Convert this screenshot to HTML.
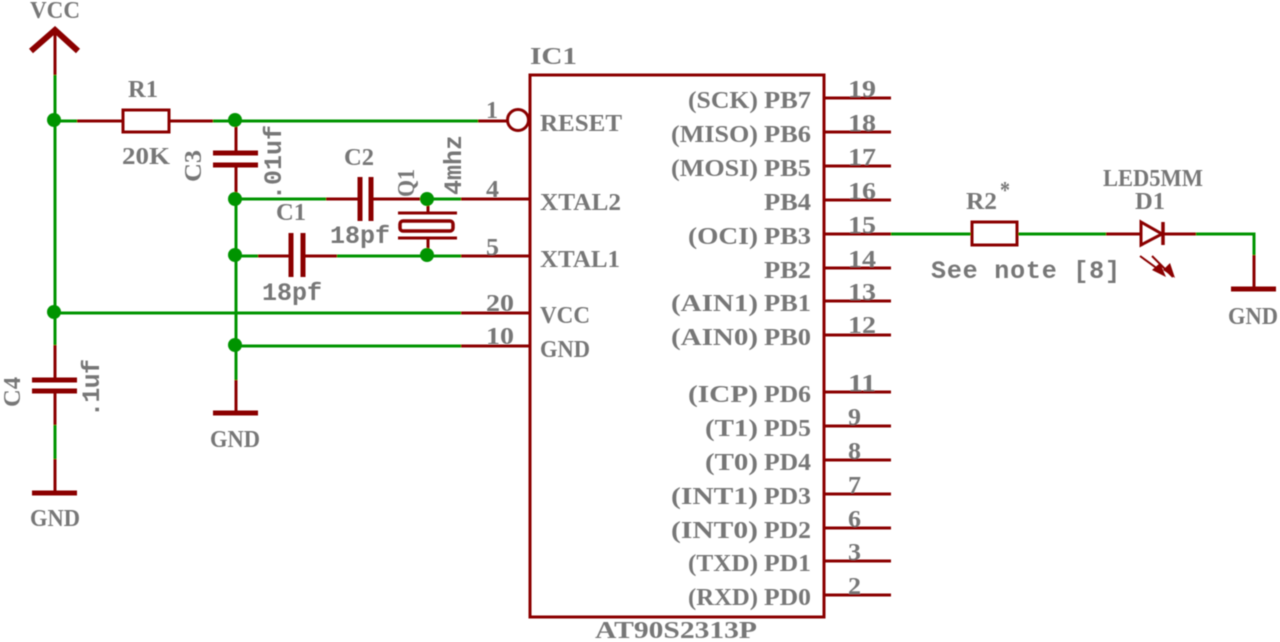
<!DOCTYPE html>
<html><head><meta charset="utf-8"><style>
html,body{margin:0;padding:0;background:#fff;width:1280px;height:642px;overflow:hidden}
svg{display:block}
text{font-family:"Liberation Serif",serif;font-size:24px;fill:#777;font-weight:bold}
text.m{font-family:"Liberation Mono",monospace;font-size:25px}
.r{stroke:#8b0000;stroke-width:3;fill:none}
.g{stroke:#009400;stroke-width:3;fill:none}
.n{fill:#009400}
</style></head><body>
<svg width="1280" height="642" viewBox="0 0 1280 642" xmlns="http://www.w3.org/2000/svg">
<defs><filter id="s" x="0" y="0" width="100%" height="100%"><feGaussianBlur stdDeviation="0.5"/></filter></defs>
<g filter="url(#s)">
<path class="g" d="M55 75V345M55 121H77M213 121H478M236 199V380M235 199H326M427 199H461M337 256H461M235 256H258M54 313H461M235 346H461M891 234H972M1017 234H1106M1196 234H1254V255M55 425V459"/>
<path class="r" d="M55 30V75M77 121H123M169 121H213M236 121V153M236 165V198M478 121H507M55 345V380M55 391V425M55 459V493M236 380V413M326 199H360M371 199H420M461 199H530M258 256H291M303 256H337M461 256H530M461 313H530M461 346H530M428 199V213M428 238V255M1106 234H1141M1163 234H1196M1254 255V289"/>
<path class="r" d="M31 51L55 30L78 51" style="stroke-width:6"/>
<path class="r" d="M32 380H77M32 391H77M32 493H77M213 153H258M213 165H258M213 413H258M360 177V221M371 177V221M291 233V277M303 233V277M1231 289H1276" style="stroke-width:5"/>
<rect class="r" x="123" y="110" width="46" height="22"/>
<rect class="r" x="972" y="222" width="45" height="23"/>
<circle class="r" cx="518" cy="120" r="10.5"/>
<rect class="r" x="530" y="75" width="294" height="542"/>
<path class="r" d="M398 213H457M398 238H457"/>
<rect class="r" x="400" y="221" width="53" height="10" rx="3" style="stroke-width:3.5"/>
<path class="r" d="M824 98H891M824 132H891M824 166H891M824 200H891M824 234H891M824 268H891M824 301H891M824 335H891M824 392H891M824 426H891M824 460H891M824 494H891M824 528H891M824 561H891M824 595H891"/>
<path class="r" d="M1141 222L1162 234L1141 245Z"/>
<path class="r" d="M1163 222V245" style="stroke-width:3.5"/>
<path class="r" d="M1140 256L1162 272M1152 256L1173 277" style="stroke-width:2"/>
<path d="M1152 270L1160 263L1166 277ZM1163 270L1170 263L1175 278Z" fill="#8b0000"/>
<g class="n">
<circle cx="54" cy="120" r="7"/><circle cx="235" cy="120" r="7"/><circle cx="235" cy="199" r="7"/><circle cx="235" cy="255" r="7"/><circle cx="54" cy="312" r="7"/><circle cx="235" cy="345" r="7"/><circle cx="427" cy="199" r="7"/><circle cx="427" cy="255" r="7"/>
</g>
<g>
<text lengthAdjust="spacingAndGlyphs" x="30" y="18" textLength="50">VCC</text>
<text lengthAdjust="spacingAndGlyphs" x="128" y="97" textLength="30">R1</text>
<text lengthAdjust="spacingAndGlyphs" x="122" y="164" textLength="48">20K</text>
<text lengthAdjust="spacingAndGlyphs" x="344" y="165" textLength="30">C2</text>
<text class="m" x="330" y="243" textLength="60">18pf</text>
<text lengthAdjust="spacingAndGlyphs" x="276" y="220" textLength="30">C1</text>
<text class="m" x="262" y="300" textLength="60">18pf</text>
<text lengthAdjust="spacingAndGlyphs" transform="translate(201,182) rotate(-90)" textLength="32">C3</text>
<text class="m" transform="translate(281,200) rotate(-90)" textLength="75">.01uf</text>
<text lengthAdjust="spacingAndGlyphs" transform="translate(414,197) rotate(-90)" textLength="28">Q1</text>
<text class="m" transform="translate(461,195) rotate(-90)" textLength="60">4mhz</text>
<text lengthAdjust="spacingAndGlyphs" transform="translate(20,407) rotate(-90)" textLength="30">C4</text>
<text class="m" transform="translate(99,417) rotate(-90)" textLength="58">.1uf</text>
<text lengthAdjust="spacingAndGlyphs" x="30" y="526" textLength="50">GND</text>
<text lengthAdjust="spacingAndGlyphs" x="210" y="447" textLength="50">GND</text>
<text lengthAdjust="spacingAndGlyphs" x="530" y="64" textLength="47">IC1</text>
<text lengthAdjust="spacingAndGlyphs" x="540" y="131" textLength="82">RESET</text>
<text lengthAdjust="spacingAndGlyphs" x="540" y="210" textLength="81">XTAL2</text>
<text lengthAdjust="spacingAndGlyphs" x="540" y="267" textLength="80">XTAL1</text>
<text lengthAdjust="spacingAndGlyphs" x="540" y="323" textLength="50">VCC</text>
<text lengthAdjust="spacingAndGlyphs" x="540" y="357" textLength="50">GND</text>
<text lengthAdjust="spacingAndGlyphs" x="486" y="118" textLength="12">1</text>
<text lengthAdjust="spacingAndGlyphs" x="486" y="197" textLength="13">4</text>
<text lengthAdjust="spacingAndGlyphs" x="486" y="255" textLength="13">5</text>
<text lengthAdjust="spacingAndGlyphs" x="486" y="311" textLength="28">20</text>
<text lengthAdjust="spacingAndGlyphs" x="486" y="344" textLength="28">10</text>
<text lengthAdjust="spacingAndGlyphs" x="848" y="97" textLength="28">19</text>
<text lengthAdjust="spacingAndGlyphs" x="848" y="131" textLength="28">18</text>
<text lengthAdjust="spacingAndGlyphs" x="848" y="165" textLength="28">17</text>
<text lengthAdjust="spacingAndGlyphs" x="848" y="199" textLength="28">16</text>
<text lengthAdjust="spacingAndGlyphs" x="848" y="233" textLength="28">15</text>
<text lengthAdjust="spacingAndGlyphs" x="848" y="267" textLength="28">14</text>
<text lengthAdjust="spacingAndGlyphs" x="848" y="300" textLength="28">13</text>
<text lengthAdjust="spacingAndGlyphs" x="848" y="333" textLength="28">12</text>
<text lengthAdjust="spacingAndGlyphs" x="848" y="391" textLength="28">11</text>
<text lengthAdjust="spacingAndGlyphs" x="848" y="425" textLength="13">9</text>
<text lengthAdjust="spacingAndGlyphs" x="848" y="459" textLength="13">8</text>
<text lengthAdjust="spacingAndGlyphs" x="848" y="493" textLength="13">7</text>
<text lengthAdjust="spacingAndGlyphs" x="848" y="527" textLength="13">6</text>
<text lengthAdjust="spacingAndGlyphs" x="848" y="560" textLength="13">3</text>
<text lengthAdjust="spacingAndGlyphs" x="848" y="594" textLength="13">2</text>
<text lengthAdjust="spacingAndGlyphs" x="764" y="108" textLength="47">PB7</text>
<text lengthAdjust="spacingAndGlyphs" x="764" y="142" textLength="47">PB6</text>
<text lengthAdjust="spacingAndGlyphs" x="764" y="176" textLength="47">PB5</text>
<text lengthAdjust="spacingAndGlyphs" x="764" y="210" textLength="47">PB4</text>
<text lengthAdjust="spacingAndGlyphs" x="764" y="244" textLength="47">PB3</text>
<text lengthAdjust="spacingAndGlyphs" x="764" y="278" textLength="47">PB2</text>
<text lengthAdjust="spacingAndGlyphs" x="764" y="311" textLength="47">PB1</text>
<text lengthAdjust="spacingAndGlyphs" x="764" y="345" textLength="47">PB0</text>
<text lengthAdjust="spacingAndGlyphs" x="764" y="402" textLength="47">PD6</text>
<text lengthAdjust="spacingAndGlyphs" x="764" y="436" textLength="47">PD5</text>
<text lengthAdjust="spacingAndGlyphs" x="764" y="470" textLength="47">PD4</text>
<text lengthAdjust="spacingAndGlyphs" x="764" y="504" textLength="47">PD3</text>
<text lengthAdjust="spacingAndGlyphs" x="764" y="538" textLength="47">PD2</text>
<text lengthAdjust="spacingAndGlyphs" x="764" y="571" textLength="47">PD1</text>
<text lengthAdjust="spacingAndGlyphs" x="764" y="605" textLength="47">PD0</text>
<text lengthAdjust="spacingAndGlyphs" x="688" y="108" textLength="70">(SCK)</text>
<text lengthAdjust="spacingAndGlyphs" x="671" y="142" textLength="87">(MISO)</text>
<text lengthAdjust="spacingAndGlyphs" x="671" y="176" textLength="87">(MOSI)</text>
<text lengthAdjust="spacingAndGlyphs" x="688" y="244" textLength="70">(OCI)</text>
<text lengthAdjust="spacingAndGlyphs" x="671" y="311" textLength="87">(AIN1)</text>
<text lengthAdjust="spacingAndGlyphs" x="671" y="345" textLength="87">(AIN0)</text>
<text lengthAdjust="spacingAndGlyphs" x="688" y="402" textLength="70">(ICP)</text>
<text lengthAdjust="spacingAndGlyphs" x="705" y="436" textLength="53">(T1)</text>
<text lengthAdjust="spacingAndGlyphs" x="705" y="470" textLength="53">(T0)</text>
<text lengthAdjust="spacingAndGlyphs" x="671" y="504" textLength="87">(INT1)</text>
<text lengthAdjust="spacingAndGlyphs" x="671" y="538" textLength="87">(INT0)</text>
<text lengthAdjust="spacingAndGlyphs" x="688" y="571" textLength="70">(TXD)</text>
<text lengthAdjust="spacingAndGlyphs" x="688" y="605" textLength="70">(RXD)</text>
<text lengthAdjust="spacingAndGlyphs" x="595" y="638" textLength="162">AT90S2313P</text>
<text lengthAdjust="spacingAndGlyphs" x="966" y="209" textLength="31">R2</text>
<text lengthAdjust="spacingAndGlyphs" x="1000" y="198" textLength="10">*</text>
<text lengthAdjust="spacingAndGlyphs" x="1103" y="186" textLength="100">LED5MM</text>
<text lengthAdjust="spacingAndGlyphs" x="1135" y="209" textLength="30">D1</text>
<text class="m" x="931" y="278" textLength="189">See note [8]</text>
<text lengthAdjust="spacingAndGlyphs" x="1228" y="324" textLength="50">GND</text>
</g>
</g>
</svg>
</body></html>
